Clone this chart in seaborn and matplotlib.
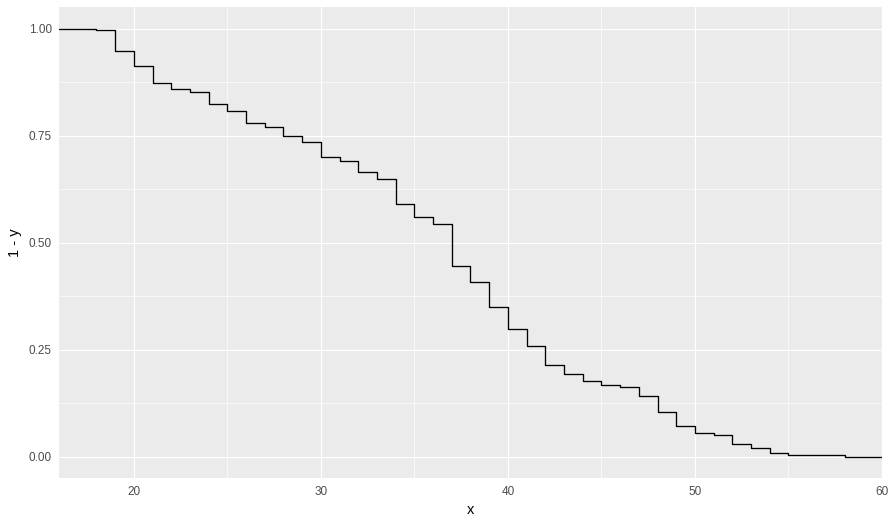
import numpy as np
import pandas as pd
import matplotlib
matplotlib.use('Agg')
import matplotlib.pyplot as plt
import seaborn as sns
from matplotlib.ticker import MultipleLocator

# 数据: 各阶跃点 x 及阶跃后的 1 - ECDF 值
x_vals = [18, 19, 20, 21, 22, 23, 24, 25, 26, 27, 28, 29, 30, 31, 32, 33, 34, 35,
          36, 37, 38, 39, 40, 41, 42, 43, 44, 45, 46, 47, 48, 49, 50, 51, 52, 53,
          54, 55, 58]
surv_vals = [0.996, 0.949, 0.913, 0.874, 0.860, 0.853, 0.825, 0.809, 0.779, 0.770,
             0.750, 0.735, 0.700, 0.691, 0.666, 0.650, 0.591, 0.561, 0.544, 0.445,
             0.409, 0.351, 0.299, 0.259, 0.215, 0.194, 0.178, 0.169, 0.164, 0.143,
             0.104, 0.073, 0.055, 0.050, 0.029, 0.020, 0.0085, 0.0046, 0.0]
x_ticks = [20, 30, 40, 50, 60]
y_ticks = [0.00, 0.25, 0.50, 0.75, 1.00]
y_tick_labels = ['0.00', '0.25', '0.50', '0.75', '1.00']

x_lim = (16, 60)
y_lim = (-0.05, 1.05)

sns.set_theme(style='darkgrid')
plt.rcParams['font.family'] = ['Liberation Sans', 'DejaVu Sans']

# 类似 stat_ecdf(pad=TRUE): 两端延伸到坐标边界
df = pd.DataFrame({'x': [x_lim[0]] + x_vals + [x_lim[1]],
                   'y': [1.0] + surv_vals + [0.0]})

fig = plt.figure(figsize=(8.9, 5.23), dpi=100)
ax = fig.add_axes([0.0663, 0.0855, 0.9247, 0.9005])
ax.set_facecolor('#EBEBEB')

sns.lineplot(data=df, x='x', y='y', ax=ax, color='black', linewidth=0.95,
             drawstyle='steps-post', estimator=None, sort=False, zorder=3)

ax.set_xlim(*x_lim)
ax.set_ylim(*y_lim)
ax.set_xticks(x_ticks)
ax.set_yticks(y_ticks)
ax.set_yticklabels(y_tick_labels)
ax.xaxis.set_minor_locator(MultipleLocator(5))
ax.yaxis.set_minor_locator(MultipleLocator(0.125))

ax.grid(which='major', color='white', linewidth=0.85)
ax.grid(which='minor', color='white', linewidth=0.45)
ax.set_axisbelow(True)
for s in ax.spines.values():
    s.set_visible(False)

ax.tick_params(axis='both', which='major', length=2.7, width=0.8, color='#333333',
               labelcolor='#4D4D4D', labelsize=8.5, pad=2.5)
ax.tick_params(axis='both', which='minor', length=0)

ax.set_xlabel('x', fontsize=10.5, color='black', labelpad=4)
ax.set_ylabel('1 - y', fontsize=10.5, color='black', labelpad=5)

fig.savefig('out.png', dpi=100)
